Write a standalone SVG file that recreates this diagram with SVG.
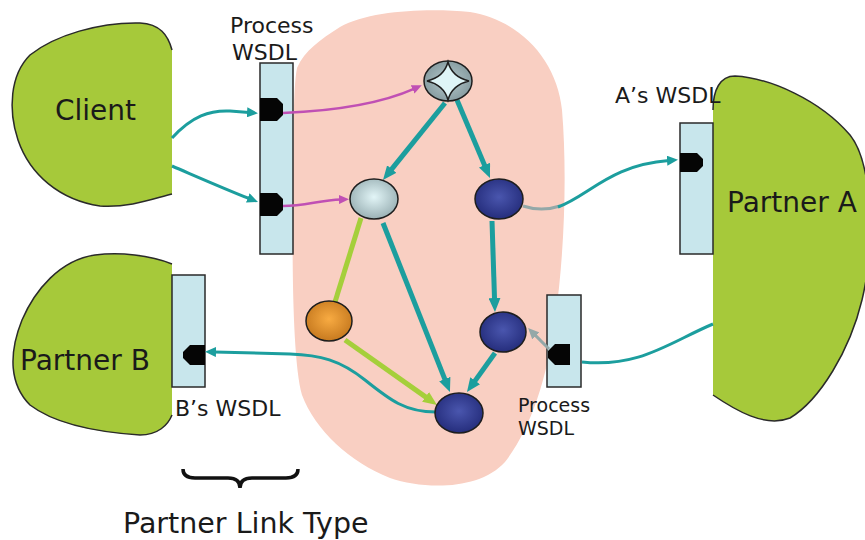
<svg xmlns="http://www.w3.org/2000/svg" width="865" height="540" viewBox="0 0 865 540">
  <style>
    .lbl { font-family: "DejaVu Sans", Verdana, sans-serif; fill: #1a1a1a; }
    .big { font-size: 28px; }
    .mid { font-size: 22px; }
    .sml { font-size: 19px; }
    .blob { fill: #a6c93a; }
    .edge-line { fill: none; stroke: #2a2a2a; stroke-width: 1.5; }
    .wsdl { fill: #c8e6ec; stroke: #2a2a2a; stroke-width: 1.5; }
    .port { fill: #050505; }
    .teal-thick { fill: none; stroke: #1c9e9e; stroke-width: 5; }
    .teal-thin { fill: none; stroke: #1c9e9e; stroke-width: 3; }
    .lime { fill: none; stroke: #a5cf3a; stroke-width: 5; }
    .magenta { fill: none; stroke: #c050b4; stroke-width: 2.5; }
    .grey { fill: none; stroke: #93a8a8; stroke-width: 3; }
    .node { stroke: #1e1e1e; stroke-width: 1.5; }
  </style>
  <defs>
    <marker id="ah-teal" markerUnits="userSpaceOnUse" markerWidth="14" markerHeight="12" refX="3" refY="6" orient="auto">
      <path d="M0,0 L14,6 L0,12 Z" fill="#1c9e9e"/>
    </marker>
    <marker id="ah-lime" markerUnits="userSpaceOnUse" markerWidth="14" markerHeight="12" refX="3" refY="6" orient="auto">
      <path d="M0,0 L14,6 L0,12 Z" fill="#a5cf3a"/>
    </marker>
    <marker id="ah-teal-s" markerUnits="userSpaceOnUse" markerWidth="11" markerHeight="10" refX="2" refY="5" orient="auto">
      <path d="M0,0 L11,5 L0,10 Z" fill="#1c9e9e"/>
    </marker>
    <marker id="ah-mag" markerUnits="userSpaceOnUse" markerWidth="10" markerHeight="9" refX="2" refY="4.5" orient="auto">
      <path d="M0,0 L10,4.5 L0,9 Z" fill="#c050b4"/>
    </marker>
    <marker id="ah-grey" markerUnits="userSpaceOnUse" markerWidth="11" markerHeight="10" refX="2" refY="5" orient="auto">
      <path d="M0,0 L11,5 L0,10 Z" fill="#93a8a8"/>
    </marker>
    <radialGradient id="g-navy" cx="0.5" cy="0.45" r="0.6">
      <stop offset="0" stop-color="#4a56ae"/>
      <stop offset="1" stop-color="#222a78"/>
    </radialGradient>
    <radialGradient id="g-light" cx="0.5" cy="0.45" r="0.6">
      <stop offset="0" stop-color="#e2f5f7"/>
      <stop offset="1" stop-color="#94abaf"/>
    </radialGradient>
    <radialGradient id="g-star" cx="0.5" cy="0.5" r="0.6">
      <stop offset="0" stop-color="#b5c8cb"/>
      <stop offset="1" stop-color="#7f959a"/>
    </radialGradient>
    <radialGradient id="g-orange" cx="0.5" cy="0.45" r="0.6">
      <stop offset="0" stop-color="#f8ab42"/>
      <stop offset="1" stop-color="#c2751c"/>
    </radialGradient>
  </defs>

  <!-- process region -->
  <path id="process-area" d="M297,68 C305,50 320,40 340,27 C370,10 430,8 470,12 C520,20 557,60 562,110 C567,170 565,250 555,320 C547,380 530,430 505,462 C480,490 425,490 390,478 C350,462 315,430 302,395 C292,360 292,250 293,180 C294,130 293,90 297,68 Z" fill="#f9cfc2"/>

  <!-- Client -->
  <g id="client">
    <path class="blob" d="M172,50 C168,35 160,24 140,23 C100,22 55,35 30,55 C10,75 8,110 18,140 C30,175 60,200 100,206 C130,208 155,198 172,194 Z"/>
    <path class="edge-line" d="M172,50 C168,35 160,24 140,23 C100,22 55,35 30,55 C10,75 8,110 18,140 C30,175 60,200 100,206 C130,208 155,198 172,194"/>
    <text class="lbl big" x="55" y="120">Client</text>
  </g>

  <!-- Partner B -->
  <g id="partner-b">
    <path class="blob" d="M172,264 C150,255 120,252 95,255 C60,260 35,290 22,320 C8,355 10,385 30,405 C60,428 110,433 140,435 C158,435 168,425 172,415 Z"/>
    <path class="edge-line" d="M172,264 C150,255 120,252 95,255 C60,260 35,290 22,320 C8,355 10,385 30,405 C60,428 110,433 140,435 C158,435 168,425 172,415"/>
    <text class="lbl big" x="20" y="370">Partner B</text>
  </g>

  <!-- Partner A -->
  <g id="partner-a">
    <path class="blob" d="M713,110 C713,90 720,76 735,76 C770,78 820,100 850,135 C874,165 874,250 862,300 C850,350 820,400 790,418 C765,428 735,410 713,395 Z"/>
    <path class="edge-line" d="M713,110 C713,90 720,76 735,76 C770,78 820,100 850,135 C874,165 874,250 862,300 C850,350 820,400 790,418 C765,428 735,410 713,395"/>
    <text class="lbl big" x="727" y="212">Partner A</text>
  </g>

  <!-- Process WSDL (client side) -->
  <g id="process-wsdl-top">
    <rect class="wsdl" x="260" y="63" width="33" height="191"/>
    <polygon class="port" points="260,98 277,98 283,104 283,115 277,121 260,121"/>
    <polygon class="port" points="260,193 277,193 283,199 283,210 277,216 260,216"/>
    <text class="lbl mid" x="230" y="33">Process</text>
    <text class="lbl mid" x="232" y="60">WSDL</text>
  </g>

  <!-- A's WSDL -->
  <g id="a-wsdl">
    <rect class="wsdl" x="680" y="123" width="33" height="131"/>
    <polygon class="port" points="680,153 697,153 703,159 703,166 697,172 680,172"/>
    <text class="lbl mid" x="615" y="103">A’s WSDL</text>
  </g>

  <!-- B's WSDL -->
  <g id="b-wsdl">
    <rect class="wsdl" x="172" y="275" width="33" height="112"/>
    <polygon class="port" points="205,345 190,345 183,352 183,358 190,365 205,365"/>
    <text class="lbl mid" x="175" y="416">B’s WSDL</text>
  </g>

  <!-- Process WSDL (partner A side) -->
  <g id="process-wsdl-bottom">
    <rect class="wsdl" x="547" y="295" width="34" height="92"/>
    <polygon class="port" points="570,344 555,344 548,351 548,358 555,365 570,365"/>
    <text class="lbl sml" x="518" y="412">Process</text>
    <text class="lbl sml" x="518" y="435">WSDL</text>
  </g>

  <!-- connectors -->
  <g id="connectors">
    <path class="teal-thin" d="M172,138 C192,116 210,110 230,111 L249,112.5" marker-end="url(#ah-teal-s)"/>
    <path class="teal-thin" d="M172,166 C200,178 225,189 249.6,198.7" marker-end="url(#ah-teal-s)"/>
    <path class="magenta" d="M283,113 C330,111 380,104 414.5,88.6" marker-end="url(#ah-mag)"/>
    <path class="magenta" d="M283,206 C305,206 320,200 341,199.5" marker-end="url(#ah-mag)"/>
    <path class="teal-thick" d="M445,103 L389.9,171.4" marker-end="url(#ah-teal)"/>
    <path class="teal-thick" d="M457,100 L485.7,167.9" marker-end="url(#ah-teal)"/>
    <path class="teal-thick" d="M383,223 L445.9,381.8" marker-end="url(#ah-teal)"/>
    <path class="teal-thick" d="M492,221 L494.6,301" marker-end="url(#ah-teal)"/>
    <path class="teal-thick" d="M495,353 L473.4,383.1" marker-end="url(#ah-teal)"/>
    <path class="lime" d="M361,218 L335,302"/>
    <path class="lime" d="M345,340 L428,398.6" marker-end="url(#ah-lime)"/>
    <path class="grey" d="M523,206 C535,210 548,210 560,206"/>
    <path class="teal-thin" d="M558,207 C590,195 610,165 669,160.5" marker-end="url(#ah-teal-s)"/>
    <path class="teal-thin" d="M713,324 C670,342 640,368 582,362"/>
    <path class="grey" d="M549,349 L534.4,334.4" marker-end="url(#ah-grey)"/>
    <path class="teal-thin" d="M436,412 C405,412 390,400 365,380 C340,360 320,355 290,354 L214,352" marker-end="url(#ah-teal-s)"/>
  </g>

  <!-- activity nodes -->
  <g id="n-start">
    <ellipse class="node" cx="448" cy="81" rx="24" ry="20" fill="url(#g-star)"/>
    <path d="M448,62 Q452,77 469,81 Q452,85 448,100 Q444,85 427,81 Q444,77 448,62 Z" fill="#dff5f7" stroke="#1e1e1e" stroke-width="1.5"/>
  </g>
  <g id="n-receive">
    <ellipse class="node" cx="374" cy="199" rx="24" ry="20" fill="url(#g-light)"/>
  </g>
  <g id="n-invoke-a">
    <ellipse class="node" cx="499" cy="199" rx="24" ry="20" fill="url(#g-navy)"/>
  </g>
  <g id="n-orange">
    <ellipse class="node" cx="329" cy="321" rx="23" ry="20" fill="url(#g-orange)"/>
  </g>
  <g id="n-callback-a">
    <ellipse class="node" cx="503" cy="332" rx="23" ry="20" fill="url(#g-navy)"/>
  </g>
  <g id="n-invoke-b">
    <ellipse class="node" cx="459" cy="413" rx="24" ry="20" fill="url(#g-navy)"/>
  </g>

  <!-- partner link type brace -->
  <g id="partner-link-type">
    <path d="M183,469 Q183,478 195,478 L228,478 Q240,478 240,488 Q240,478 252,478 L286,478 Q298,478 298,469" fill="none" stroke="#111" stroke-width="3.5"/>
    <text class="lbl" font-size="28.5" x="123" y="533">Partner Link Type</text>
  </g>
</svg>
